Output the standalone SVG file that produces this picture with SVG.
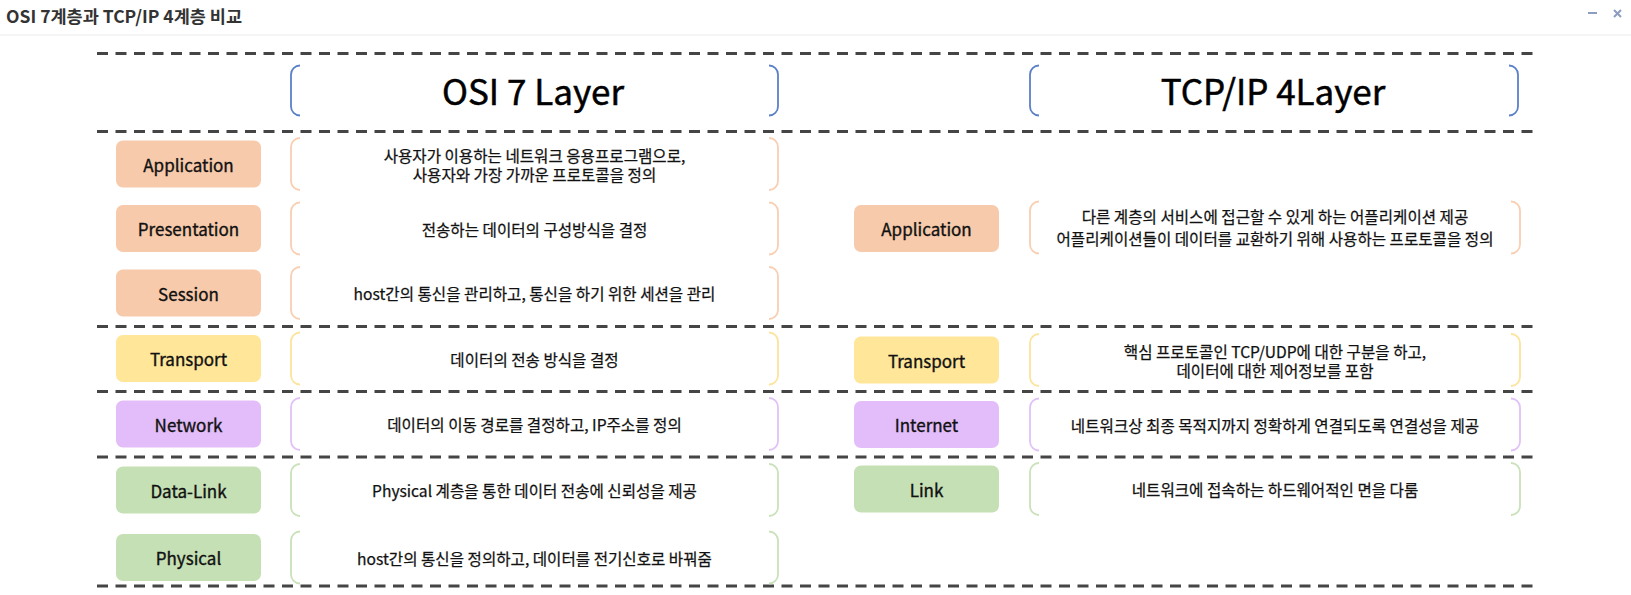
<svg xmlns="http://www.w3.org/2000/svg" width="1631" height="595" viewBox="0 0 1631 595">
<style>
text{font-family:"Noto Sans CJK KR","Noto Sans",sans-serif;fill:#111;text-anchor:middle;dominant-baseline:central}
.title{font-size:17.5px;font-weight:bold;fill:#333;text-anchor:start;dominant-baseline:auto}
.head{font-size:35px;fill:#000;stroke:#000;stroke-width:0.5}
.lbl{font-size:17px;stroke:#111;stroke-width:0.35}
.desc{font-size:15.6px;stroke:#111;stroke-width:0.25}
.dash{stroke:#454545;stroke-width:3;stroke-dasharray:11 7.5;fill:none}
.br{fill:none;stroke-width:1.8}
.blue{stroke:#5b80c8}
.or{stroke:#f8cfb2}.orf{fill:#f7caab}
.ye{stroke:#fde49c}.yef{fill:#ffe699}
.pu{stroke:#e0c2f7}.puf{fill:#e2bdf9}
.gr{stroke:#c9e2b9}.grf{fill:#c5e0b4}
.ctl{stroke:#8c9dbf;stroke-width:2;fill:none}
</style>
<defs>
<path id="bl" d="M9,0 A9,9 0 0 0 0,9 V43 A9,9 0 0 0 9,52"/>
<path id="brr" d="M-9,0 A9,9 0 0 1 0,9 V43 A9,9 0 0 1 -9,52"/>
</defs>
<rect x="0" y="0" width="1631" height="595" fill="#fff"/>
<g id="titlebar">
<text class="title" x="6" y="23">OSI 7계층과 TCP/IP 4계층 비교</text>
<line x1="0" y1="35" x2="1631" y2="35" stroke="#ececec" stroke-width="1"/>
<line class="ctl" x1="1588" y1="13" x2="1597" y2="13"/>
<path class="ctl" d="M1614,10 L1621,17 M1621,10 L1614,17"/>
</g>
<g id="connectors">
<line class="dash" x1="97" y1="53.5" x2="1536" y2="53.5"/>
<line class="dash" x1="97" y1="131.5" x2="1536" y2="131.5"/>
<line class="dash" x1="97" y1="326.5" x2="1536" y2="326.5"/>
<line class="dash" x1="97" y1="391.5" x2="1536" y2="391.5"/>
<line class="dash" x1="97" y1="457" x2="1536" y2="457"/>
<line class="dash" x1="97" y1="586" x2="1536" y2="586"/>
</g>
<g id="osi-header">
<path class="br blue" d="M300,65.5 A9,9 0 0 0 291,74.5 V106.5 A9,9 0 0 0 300,115.5"/>
<path class="br blue" d="M769,65.5 A9,9 0 0 1 778,74.5 V106.5 A9,9 0 0 1 769,115.5"/>
<text class="head" x="533" y="89">OSI 7 Layer</text>
</g>
<g id="tcp-header">
<path class="br blue" d="M1039,65.5 A9,9 0 0 0 1030,74.5 V106.5 A9,9 0 0 0 1039,115.5"/>
<path class="br blue" d="M1509,65.5 A9,9 0 0 1 1518,74.5 V106.5 A9,9 0 0 1 1509,115.5"/>
<text class="head" x="1273" y="89">TCP/IP 4Layer</text>
</g>
<g id="osi-application">
<rect class="orf" x="116" y="140.5" width="145" height="47" rx="7"/>
<text class="lbl" x="188.5" y="164">Application</text>
<use href="#bl" class="br or" x="291" y="138"/><use href="#brr" class="br or" x="778" y="138"/>
<text class="desc" x="534.5" y="154.5">사용자가 이용하는 네트워크 응용프로그램으로,</text>
<text class="desc" x="534.5" y="173.5">사용자와 가장 가까운 프로토콜을 정의</text>
</g>
<g id="osi-presentation">
<rect class="orf" x="116" y="205" width="145" height="47" rx="7"/>
<text class="lbl" x="188.5" y="228.5">Presentation</text>
<use href="#bl" class="br or" x="291" y="202.5"/><use href="#brr" class="br or" x="778" y="202.5"/>
<text class="desc" x="534.5" y="228.5">전송하는 데이터의 구성방식을 결정</text>
</g>
<g id="osi-session">
<rect class="orf" x="116" y="269.5" width="145" height="47" rx="7"/>
<text class="lbl" x="188.5" y="293">Session</text>
<use href="#bl" class="br or" x="291" y="267"/><use href="#brr" class="br or" x="778" y="267"/>
<text class="desc" x="534.5" y="293">host간의 통신을 관리하고, 통신을 하기 위한 세션을 관리</text>
</g>
<g id="osi-transport">
<rect class="yef" x="116" y="335" width="145" height="47" rx="7"/>
<text class="lbl" x="188.5" y="358.5">Transport</text>
<use href="#bl" class="br ye" x="291" y="332.5"/><use href="#brr" class="br ye" x="778" y="332.5"/>
<text class="desc" x="534.5" y="358.5">데이터의 전송 방식을 결정</text>
</g>
<g id="osi-network">
<rect class="puf" x="116" y="400.5" width="145" height="47" rx="7"/>
<text class="lbl" x="188.5" y="424">Network</text>
<use href="#bl" class="br pu" x="291" y="398"/><use href="#brr" class="br pu" x="778" y="398"/>
<text class="desc" x="534.5" y="424">데이터의 이동 경로를 결정하고, IP주소를 정의</text>
</g>
<g id="osi-datalink">
<rect class="grf" x="116" y="466.5" width="145" height="47" rx="7"/>
<text class="lbl" x="188.5" y="490">Data-Link</text>
<use href="#bl" class="br gr" x="291" y="464"/><use href="#brr" class="br gr" x="778" y="464"/>
<text class="desc" x="534.5" y="490">Physical 계층을 통한 데이터 전송에 신뢰성을 제공</text>
</g>
<g id="osi-physical">
<rect class="grf" x="116" y="534" width="145" height="47" rx="7"/>
<text class="lbl" x="188.5" y="557.5">Physical</text>
<use href="#bl" class="br gr" x="291" y="531.5"/><use href="#brr" class="br gr" x="778" y="531.5"/>
<text class="desc" x="534.5" y="557.5">host간의 통신을 정의하고, 데이터를 전기신호로 바꿔줌</text>
</g>
<g id="tcp-application">
<rect class="orf" x="854" y="205" width="145" height="47" rx="7"/>
<text class="lbl" x="926.5" y="228.5">Application</text>
<use href="#bl" class="br or" x="1030" y="201.5"/><use href="#brr" class="br or" x="1520" y="201.5"/>
<text class="desc" x="1275" y="216">다른 계층의 서비스에 접근할 수 있게 하는 어플리케이션 제공</text>
<text class="desc" x="1275" y="238">어플리케이션들이 데이터를 교환하기 위해 사용하는 프로토콜을 정의</text>
</g>
<g id="tcp-transport">
<rect class="yef" x="854" y="336.5" width="145" height="47" rx="7"/>
<text class="lbl" x="926.5" y="360">Transport</text>
<use href="#bl" class="br ye" x="1030" y="334"/><use href="#brr" class="br ye" x="1520" y="334"/>
<text class="desc" x="1275" y="350.5">핵심 프로토콜인 TCP/UDP에 대한 구분을 하고,</text>
<text class="desc" x="1275" y="369.5">데이터에 대한 제어정보를 포함</text>
</g>
<g id="tcp-internet">
<rect class="puf" x="854" y="401" width="145" height="47" rx="7"/>
<text class="lbl" x="926.5" y="424.5">Internet</text>
<use href="#bl" class="br pu" x="1030" y="398.5"/><use href="#brr" class="br pu" x="1520" y="398.5"/>
<text class="desc" x="1275" y="424.5">네트워크상 최종 목적지까지 정확하게 연결되도록 연결성을 제공</text>
</g>
<g id="tcp-link">
<rect class="grf" x="854" y="465.5" width="145" height="47" rx="7"/>
<text class="lbl" x="926.5" y="489">Link</text>
<use href="#bl" class="br gr" x="1030" y="463"/><use href="#brr" class="br gr" x="1520" y="463"/>
<text class="desc" x="1275" y="489">네트워크에 접속하는 하드웨어적인 면을 다룸</text>
</g>
</svg>
